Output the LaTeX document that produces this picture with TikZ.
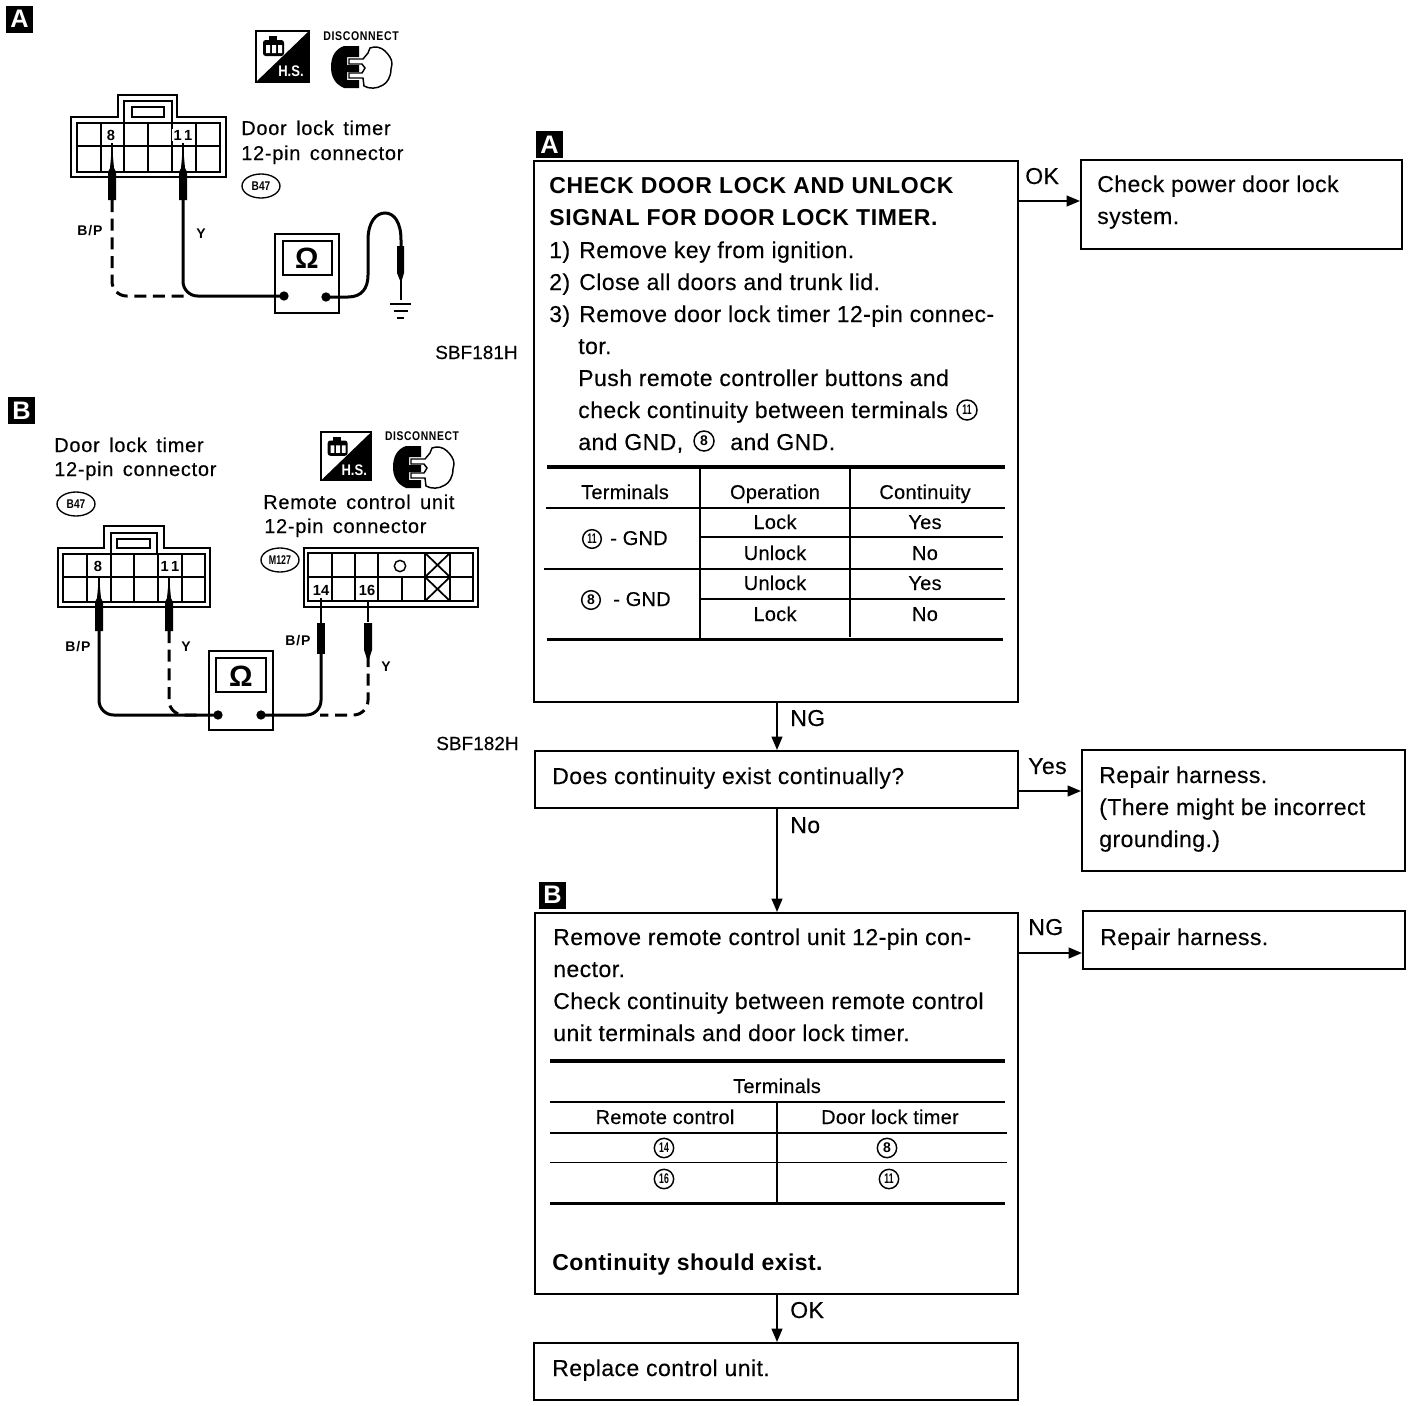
\documentclass[tikz,border=0pt]{standalone}
\usepackage{fontspec}
\usepackage{graphicx}
\usetikzlibrary{arrows.meta,fit,shapes.geometric}
\setmainfont{Liberation Sans}
\newfontfamily\mainf[LetterSpace=1.9,FakeBold=0.25]{Liberation Sans}
\newfontfamily\boldf[LetterSpace=3]{Liberation Sans Bold}
\newfontfamily\boldg[LetterSpace=2]{Liberation Sans Bold}
\newfontfamily\tblf[LetterSpace=1.3,FakeBold=0.25]{Liberation Sans}
\newfontfamily\sbff[FakeBold=0.2]{Liberation Sans}
\newfontfamily\lblf[LetterSpace=3.6,WordSpace=1.5,FakeBold=0.3]{Liberation Sans}
\newfontfamily\smallf[LetterSpace=6]{Liberation Sans Bold}
\newfontfamily\plainbold{Liberation Sans Bold}
\tikzset{
  x=0.75pt,y=-0.75pt,
  box/.style={draw,line width=1.5pt,inner sep=0pt,fit={#1}},
  conn/.style={line width=1.5pt,-{Triangle[length=10pt,width=8pt]}},
  txt/.style={anchor=base west,inner sep=0pt,font=\mainf\fontsize{17.25pt}{20pt}\selectfont},
  bld/.style={anchor=base west,inner sep=0pt,font=\boldf\fontsize{17.25pt}{20pt}\selectfont},
  bldl/.style={anchor=base west,inner sep=0pt,font=\boldg\fontsize{17.25pt}{20pt}\selectfont},
  tbl/.style={anchor=base,inner sep=0pt,font=\tblf\fontsize{15pt}{18pt}\selectfont},
  lbl/.style={anchor=base west,inner sep=0pt,font=\lblf\fontsize{15pt}{18pt}\selectfont},
  mini/.style={anchor=center,inner sep=0pt,font=\smallf\fontsize{10.5pt}{12pt}\selectfont},
  pinno/.style={anchor=center,fill=white,inner sep=1pt,font=\plainbold\fontsize{11pt}{12pt}\selectfont},
  sbf/.style={anchor=base west,inner sep=0pt,font=\sbff\fontsize{14.25pt}{16pt}\selectfont},
  discon/.style={anchor=center,inner sep=0pt,font=\smallf\fontsize{8.6pt}{10pt}\selectfont},
  tag/.style={fill=black,text=white,inner sep=0pt,minimum size=20.25pt,font=\plainbold\fontsize{19pt}{20pt}\selectfont},
  cnum/.style={circle,draw,line width=1.1pt,inner sep=0pt,minimum size=#1,font=\plainbold\fontsize{10.5pt}{10pt}\selectfont},
  rule/.style={line width=1.2pt},
  heavy/.style={line width=2.6pt},
  wire/.style={line width=2.25pt,rounded corners=11pt},
  dwire/.style={line width=2.25pt,rounded corners=11pt,dash pattern=on 9pt off 5pt},
  pinline/.style={line width=1.8pt},
  part/.style={line width=1.3pt},
  meter/.style={draw,line width=1.5pt,inner sep=0pt,fit={#1}},
  omega/.style={inner sep=0pt,font=\plainbold\fontsize{22pt}{24pt}\selectfont},
  termdot/.style={circle,fill,inner sep=0pt,minimum size=7pt},
  code/.style={ellipse,draw,line width=1pt,inner sep=0pt,minimum width=28.5pt,minimum height=18pt,font=\plainbold\fontsize{9.5pt}{10pt}\selectfont},
  hs/.pic={
    \draw[line width=1pt] (0,0) rectangle (53,51);
    \fill (53,0) -- (53,51) -- (0,51) -- cycle;
    \node[text=white,inner sep=0pt,font=\plainbold\fontsize{11.5pt}{12pt}\selectfont] (-t) at (35,40) {\scalebox{.85}[1]{H.S.}};
    \fill[rounded corners=2pt] (7,9) rectangle (28,25);
    \fill (13,5) rectangle (21,9);
    \fill[white] (10,14) rectangle (14,22) (16,14) rectangle (20,22) (22,14) rectangle (26,22);
  },
  dis/.pic={
    \fill (28,1) -- (13,1) .. controls (4,4) and (0,12) .. (0,22) .. controls (0,32) and (4,39) .. (13,43) -- (28,43) -- (28,35) -- (16,35) -- (16,27) -- (28,27) -- (28,20) -- (16,20) -- (16,12) -- (28,12) -- cycle;
    \draw[line width=1.1pt] (18,14) -- (32,14) -- (37,8) -- (39,3) .. controls (44,1) and (50,2) .. (54,6) .. controls (58,10) and (61,14) .. (61,19) -- (60,24) .. controls (60,32) and (56,38) .. (52,40) .. controls (46,44) and (38,44) .. (33,41) -- (32,33) -- (18,33) -- (18,28) -- (31,28) -- (34,23) -- (31,19) -- (18,19) -- cycle;
  },
}
\newcommand\probe[4]{% x, tip, top, bottom
  \fill (#1,#2) -- (#1+2,#3) -- (#1+4,#3+4) -- (#1+4,#4) -- (#1-4,#4) -- (#1-4,#3+4) -- (#1-2,#3) -- cycle;
}
\newcommand\nn[1]{\scalebox{.62}[1]{#1}}
\begin{document}
\begin{tikzpicture}
\useasboundingbox (0,0) rectangle (1424,1406);
% ---------- flow boxes
\node[box={(534,161)(1018,702)}] (boxA) {};
\node[box={(1081,160)(1402,249)}] (check) {};
\node[box={(535,751)(1018,808)}] (quest) {};
\node[box={(1082,750)(1405,871)}] (rep1) {};
\node[box={(535,913)(1018,1294)}] (boxB) {};
\node[box={(1083,911)(1405,969)}] (rep2) {};
\node[box={(534,1343)(1018,1400)}] (repl) {};
\node[tag] (tagFA) at (549.5,144.5) {A};
\node[tag] (tagFB) at (552.5,895) {B};
% ---------- connectors
\coordinate (yA) at (0,201);
\coordinate (yQ) at (0,791);
\coordinate (yB) at (0,953);
\coordinate (xM) at (777,0);
\draw[conn] (boxA.east |- yA) -- (check.west |- yA);
\draw[conn] (boxA.south -| xM) -- (quest.north -| xM);
\draw[conn] (quest.east |- yQ) -- (rep1.west |- yQ);
\draw[conn] (quest.south -| xM) -- (boxB.north -| xM);
\draw[conn] (boxB.east |- yB) -- (rep2.west |- yB);
\draw[conn] (boxB.south -| xM) -- (repl.north -| xM);
\node[txt] (lOK1) at (1025,184) {OK};
\node[txt] (lNG1) at (790,726) {NG};
\node[txt] (lYes) at (1028,774) {Yes};
\node[txt] (lNo) at (790,833) {No};
\node[txt] (lNG2) at (1028,935) {NG};
\node[txt] (lOK2) at (790,1318) {OK};
% ---------- text box A
\node[bld] (a1) at (549,193) {CHECK DOOR LOCK AND UNLOCK};
\node[bld] (a2) at (549,225) {SIGNAL FOR DOOR LOCK TIMER.};
\node[txt] (a3n) at (549,258) {1)};
\node[txt] (a3) at (579,258) {Remove key from ignition.};
\node[txt] (a4n) at (549,290) {2)};
\node[txt] (a4) at (579,290) {Close all doors and trunk lid.};
\node[txt] (a5n) at (549,322) {3)};
\node[txt] (a5) at (579,322) {Remove door lock timer 12-pin connec-};
\node[txt] (a6) at (578,354) {tor.};
\node[txt] (a7) at (578,386) {Push remote controller buttons and};
\node[txt] (a8) at (578,418) {check continuity between terminals};
\node[cnum=15pt] (c11a) at (967,410) {\nn{11}};
\node[txt] (a9) at (578,450) {and GND,};
\node[cnum=15pt] (c8a) at (704,441) {8};
\node[txt] (a10) at (730,450) {and GND.};
% table A
\draw[heavy] (547,467) -- (1005,467);
\draw[rule] (546,508) -- (1005,508);
\draw[rule] (700,537) -- (1003,537);
\draw[rule] (544,569) -- (1003,569);
\draw[line width=1.8pt] (700,599) -- (1005,599);
\draw[heavy] (547,639.5) -- (1003,639.5);
\draw[line width=1.4pt] (700,467) -- (700,638);
\draw[line width=1.4pt] (850,467) -- (850,637);
\node[tbl] (t1) at (625,499) {Terminals};
\node[tbl] (t2) at (775,499) {Operation};
\node[tbl] (t3) at (925,499) {Continuity};
\node[tbl] (t4) at (775,529) {Lock};
\node[tbl] (t5) at (925,529) {Yes};
\node[tbl] (t6) at (775,560) {Unlock};
\node[tbl] (t7) at (925,560) {No};
\node[tbl] (t8) at (775,590) {Unlock};
\node[tbl] (t9) at (925,590) {Yes};
\node[tbl] (t10) at (775,621) {Lock};
\node[tbl] (t11) at (925,621) {No};
\node[cnum=14pt] (c11t) at (592,539) {\nn{11}};
\node[tbl,anchor=base west] (t12) at (610,545) {- GND};
\node[cnum=14pt] (c8t) at (591,600) {8};
\node[tbl,anchor=base west] (t13) at (613,606) {- GND};
% ---------- other boxes
\node[txt] (b1) at (1097,192) {Check power door lock};
\node[txt] (b2) at (1097,224) {system.};
\node[txt] (q1) at (552,784) {Does continuity exist continually?};
\node[txt] (r1) at (1099,783) {Repair harness.};
\node[txt] (r2) at (1099,815) {(There might be incorrect};
\node[txt] (r3) at (1099,847) {grounding.)};
\node[txt] (r4) at (1100,945) {Repair harness.};
\node[txt] (r5) at (552,1376) {Replace control unit.};
% ---------- text box B
\node[txt] (e1) at (553,945) {Remove remote control unit 12-pin con-};
\node[txt] (e2) at (553,977) {nector.};
\node[txt] (e3) at (553,1009) {Check continuity between remote control};
\node[txt] (e4) at (553,1041) {unit terminals and door lock timer.};
\draw[heavy] (550,1061) -- (1005,1061);
\draw[rule] (550,1102) -- (1005,1102);
\draw[rule] (550,1133) -- (1007,1133);
\draw[rule] (550,1162.5) -- (1007,1162.5);
\draw[line width=1.4pt] (777,1102) -- (777,1203);
\draw[heavy] (550,1203.5) -- (1005,1203.5);
\node[tbl] (f1) at (777,1093) {Terminals};
\node[tbl] (f2) at (665,1124) {Remote control};
\node[tbl] (f3) at (890,1124) {Door lock timer};
\node[cnum=14.5pt] (c14) at (664,1148) {\nn{14}};
\node[cnum=14.5pt] (c8b) at (887,1148) {8};
\node[cnum=14.5pt] (c16) at (664,1179) {\nn{16}};
\node[cnum=14.5pt] (c11b) at (889,1179) {\nn{11}};
\node[bldl] (e5) at (552,1270) {Continuity should exist.};
% ---------- SBF labels
\node[sbf] (s1) at (435,359) {SBF181H};
\node[sbf] (s2) at (436,750) {SBF182H};
% ---------- diagram A
\node[tag] (tagA) at (19.5,19) {A};
\pic at (256,31) {hs};
\node[discon] (disA) at (361,36) {\scalebox{.92}[1.1]{DISCONNECT}};
\pic at (331,45) {dis};
\draw[line width=1.7pt] (71,117) -- (118,117) -- (118,95) -- (177,95) -- (177,117) -- (226,117) -- (226,177) -- (71,177) -- cycle;
\draw[part] (124,123) -- (124,101) -- (172,101) -- (172,123);
\draw[part] (132,107) rectangle (164,117);
\draw[part] (77,123) rectangle (220,172);
\draw[part] (77,146) -- (220,146);
\foreach \cx in {101,124,148,172,196} \draw[part] (\cx,123) -- (\cx,172);
\node[pinno] (p8) at (111,135) {8};
\node[pinno] (p11) at (183,135) {1\,1};
\draw[pinline] (112,143) -- (112,170) (183,143) -- (183,170);
\probe{112}{146}{168}{200}
\probe{183}{146}{168}{200}
\node[meter={(275,234)(339,313)}] (mA) {};
\node[meter={(283,241)(332,275)},line width=1.3pt] (oA) {};
\node[omega] (omA) at (307,258) {Ω};
\node[termdot] (dA1) at (284,296) {};
\node[termdot] (dA2) at (326,297) {};
\coordinate (wA8) at (112,200);
\coordinate (wA11) at (183,200);
\draw[dwire] (wA8) -- (112,296) -- (185,296);
\draw[wire] (wA11) -- (183,296) -- (dA1.center);
\coordinate (gA) at (401,300);
\draw[line width=2.25pt] (dA2.center) -- (348,297) .. controls (362,297) and (368,288) .. (368,275) -- (368,240) .. controls (368,222) and (376,213) .. (385,213) .. controls (394,213) and (401,222) .. (401,240) -- (401,250);
\fill (397,246) rectangle (404,273) (397,273) -- (404,273) -- (401,283) -- cycle;
\draw[line width=1pt] (401,280) -- (gA);
\draw[line width=1.3pt] (390,304) -- (411,304) (394,311) -- (408,311) (397,318) -- (404,318);
\node[mini] (bpA) at (90,231) {B/P};
\node[mini] (yAl) at (201,234) {Y};
\node[lbl] (la1) at (241,135) {Door lock timer};
\node[lbl] (la2) at (241,160) {12-pin connector};
\node[code] (b47a) at (261,186) {\scalebox{.8}[1]{B47}};
% ---------- diagram B
\node[tag] (tagB) at (21.5,410.5) {B};
\pic[scale=.95] at (321,432) {hs};
\node[discon] (disB) at (422,436) {\scalebox{.9}[1.1]{DISCONNECT}};
\pic at (393,445) {dis};
\node[lbl] (lb1) at (54,452) {Door lock timer};
\node[lbl] (lb2) at (54,476) {12-pin connector};
\node[code] (b47b) at (76,504) {\scalebox{.8}[1]{B47}};
\node[lbl] (lb3) at (263,509) {Remote control unit};
\node[lbl] (lb4) at (264,533) {12-pin connector};
\node[code] (m127) at (280,560) {\scalebox{.7}[1]{M127}};
\draw[line width=1.7pt] (58,548) -- (104,548) -- (104,526) -- (164,526) -- (164,548) -- (210,548) -- (210,607) -- (58,607) -- cycle;
\draw[part] (111,554) -- (111,533) -- (157,533) -- (157,554);
\draw[part] (117,539) rectangle (150,548);
\draw[part] (63,554) rectangle (205,602);
\draw[part] (63,577) -- (205,577);
\foreach \cx in {87,111,134,158,182} \draw[part] (\cx,554) -- (\cx,602);
\node[pinno] (q8) at (98,566) {8};
\node[pinno] (q11) at (170,566) {1\,1};
\draw[pinline] (99,577) -- (99,600) (169,577) -- (169,600);
\probe{99}{577}{598}{631}
\probe{169}{577}{598}{631}
\draw[line width=1.7pt] (304,548) rectangle (478,607);
\draw[part] (308,553) rectangle (473,601);
\draw[part] (308,577) -- (473,577);
\foreach \cx in {332,355,378,425,450} \draw[part] (\cx,553) -- (\cx,601);
\draw[part] (402,577) -- (402,601);
\draw[part] (425,553) -- (450,577) (450,553) -- (425,577) (425,577) -- (450,601) (450,577) -- (425,601);
\node[draw,circle,line width=1.1pt,inner sep=0pt,minimum size=8.5pt] (oh) at (400,566) {};
\node[pinno] (q14) at (321,590) {14};
\node[pinno] (q16) at (367,590) {16};
\node[meter={(209,651)(273,730)}] (mB) {};
\node[meter={(216,658)(266,692)},line width=1.3pt] (oB) {};
\node[omega] (omB) at (241,676) {Ω};
\node[termdot] (dB1) at (218,715) {};
\node[termdot] (dB2) at (261,715) {};
\coordinate (wB8) at (99,631);
\coordinate (wB11) at (169,631);
\coordinate (wB14) at (321,654);
\coordinate (wB16) at (368,655);
\draw[wire] (wB8) -- (99,715) -- (dB1.center);
\draw[dwire] (wB11) -- (169,715) -- (200,715);
\draw[dwire] (wB16) -- (368,715) -- (320,715);
\draw[wire] (wB14) -- (321,715) -- (dB2.center);
\draw[pinline] (321,598) -- (321,623) (368,600) -- (368,622);
\fill (317,623) rectangle (325,654);
\fill (364,623) rectangle (372,650) (364,650) -- (372,650) -- (368,662) -- cycle;
\node[mini] (bpB1) at (78,647) {B/P};
\node[mini] (yB1) at (186,647) {Y};
\node[mini] (bpB2) at (298,641) {B/P};
\node[mini] (yB2) at (386,667) {Y};
\end{tikzpicture}
\end{document}
